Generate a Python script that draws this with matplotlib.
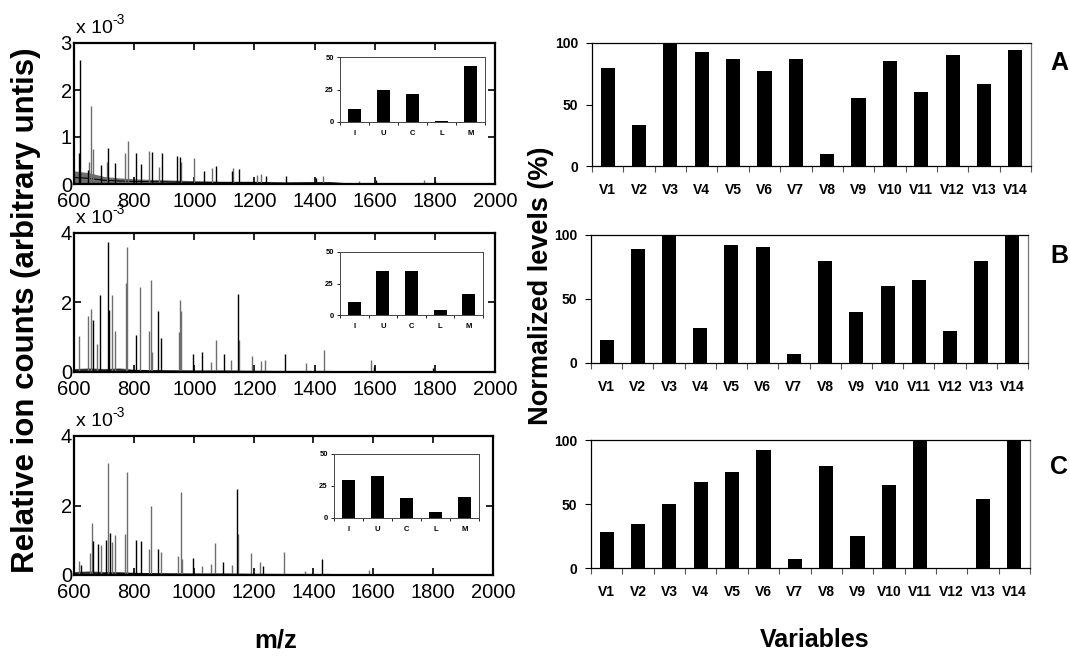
import matplotlib
matplotlib.use("Agg")
import matplotlib.pyplot as plt
import numpy as np

plt.rcParams['font.family'] = ['Liberation Sans', 'DejaVu Sans']

# ---------------- data ----------------
variables = ["V1", "V2", "V3", "V4", "V5", "V6", "V7", "V8", "V9", "V10", "V11", "V12", "V13", "V14"]
levels_A = [80, 33, 100, 93, 87, 77, 87, 10, 55, 85, 60, 90, 67, 94]
levels_B = [18, 89, 100, 27, 92, 91, 7, 80, 40, 60, 65, 25, 80, 99]
levels_C = [28, 34, 50, 67, 75, 92, 7, 80, 25, 65, 100, 0, 54, 100]

inset_cats = ["I", "U", "C", "L", "M"]
inset_A = [10, 25, 21.5, 0.5, 43]
inset_B = [10, 35, 35, 4, 17]
inset_C = [30, 33, 15.5, 5, 16.5]

mz_ticks = [600, 800, 1000, 1200, 1400, 1600, 1800, 2000]

# spectra (intensity in units of 1e-3)
base_mz = [600, 650, 700, 750, 800, 900, 1000, 1100, 1200, 1300, 1400, 1450, 1500, 1600, 1700, 1800, 2000]
base_A = [0.28, 0.24, 0.16, 0.13, 0.11, 0.09, 0.07, 0.06, 0.06, 0.04, 0.05, 0.05, 0.02, 0.02, 0.02, 0.02, 0.01]
base_B = [0.10, 0.12, 0.10, 0.12, 0.08, 0.06, 0.05, 0.05, 0.04, 0.03, 0.03, 0.03, 0.01, 0.01, 0.01, 0.01, 0.01]
base_C = [0.10, 0.12, 0.10, 0.10, 0.08, 0.06, 0.05, 0.05, 0.04, 0.03, 0.03, 0.03, 0.01, 0.01, 0.01, 0.01, 0.01]

A_black_mz = [617, 620, 645, 690, 714, 737, 807, 824, 858, 891, 944, 953, 1032, 1071, 1124, 1148, 1237, 1305, 1406, 1605, 1800]
A_black_h = [0.65, 2.64, 0.30, 0.40, 0.77, 0.45, 0.65, 0.42, 0.68, 0.66, 0.60, 0.58, 0.27, 0.38, 0.27, 0.32, 0.18, 0.16, 0.13, 0.08, 0.07]
A_gray_mz = [650, 658, 663, 709, 771, 778, 850, 883, 956, 999, 1059, 1128, 1210, 1222, 1428, 1548, 1764]
A_gray_h = [0.47, 1.67, 0.75, 0.47, 0.65, 0.91, 0.70, 0.36, 0.47, 0.56, 0.35, 0.35, 0.20, 0.22, 0.16, 0.07, 0.09]

B_black_mz = [662, 686, 712, 716, 805, 880, 889, 996, 1027, 1099, 1146, 1301, 1598, 1795]
B_black_h = [1.51, 2.23, 3.75, 1.78, 1.06, 1.76, 0.99, 0.51, 0.58, 0.51, 2.24, 0.53, 0.13, 0.11]
B_gray_mz = [617, 648, 658, 676, 726, 736, 772, 777, 821, 849, 855, 859, 948, 952, 956, 1056, 1071, 1121, 1150, 1191, 1222, 1236, 1372, 1431, 1588]
B_gray_h = [1.03, 1.62, 1.81, 0.81, 2.21, 1.18, 2.55, 3.60, 2.45, 1.18, 2.64, 0.58, 1.15, 2.07, 1.76, 0.30, 0.92, 0.35, 0.93, 0.47, 0.33, 0.35, 0.25, 0.62, 0.35]

C_black_mz = [623, 664, 681, 707, 720, 808, 824, 882, 997, 1099, 1145, 1233, 1430]
C_black_h = [0.29, 0.97, 0.88, 1.02, 1.21, 1.02, 0.99, 0.74, 0.48, 0.38, 2.47, 0.26, 0.45]
C_gray_mz = [617, 652, 660, 690, 714, 726, 737, 772, 778, 850, 856, 890, 947, 956, 962, 1029, 1058, 1072, 1128, 1148, 1190, 1222, 1300, 1371, 1585]
C_gray_h = [0.41, 0.64, 1.50, 0.85, 3.22, 0.95, 1.16, 1.18, 2.95, 0.74, 1.98, 0.66, 0.54, 2.38, 0.45, 0.26, 0.31, 0.91, 0.28, 1.17, 0.64, 0.37, 0.66, 0.11, 0.14]

# ---------------- layout ----------------
W, H = 1070, 656
fig = plt.figure(figsize=(W / 100, H / 100), dpi=100)

def rect(x0, y0, x1, y1):
    return [x0 / W, 1 - y1 / H, (x1 - x0) / W, (y1 - y0) / H]

left_rects = [rect(74, 43, 495, 184), rect(74, 233, 495, 372), rect(74, 436, 493, 575)]
inset_rects = [rect(340, 57, 485, 122), rect(340, 252, 483, 315), rect(334, 454, 479, 518)]
right_rects = [rect(592, 43, 1031, 166), rect(591, 235, 1028, 363), rect(591, 440, 1030, 568)]

spectra = [
    (base_A, A_black_mz, A_black_h, A_gray_mz, A_gray_h, 3, [0, 1, 2, 3]),
    (base_B, B_black_mz, B_black_h, B_gray_mz, B_gray_h, 4, [0, 2, 4]),
    (base_C, C_black_mz, C_black_h, C_gray_mz, C_gray_h, 4, [0, 2, 4]),
]
insets = [inset_A, inset_B, inset_C]
rights = [levels_A, levels_B, levels_C]
letters = ["A", "B", "C"]
letter_y = [63, 256, 467]

GRAY = "#6e6e6e"

for i in range(3):
    base, bmz, bh, gmz, gh, ymax, yt = spectra[i]
    ax = fig.add_axes(left_rects[i])
    ax.fill_between(base_mz, 0, base, color=GRAY, lw=0)
    ax.plot(base_mz, np.array(base) * 0.5, color="black", lw=0.8)
    ax.vlines(gmz, 0, gh, color=GRAY, lw=1.0)
    ax.vlines(bmz, 0, bh, color="black", lw=1.0)
    ax.set_xlim(600, 2000)
    ax.set_ylim(0, ymax)
    ax.set_xticks(mz_ticks)
    ax.set_yticks(yt)
    ax.tick_params(direction="in", top=True, right=True, length=5, width=1.2,
                   labelsize=14.5, pad=1.5)
    ax.tick_params(axis="x", pad=6)
    for s in ax.spines.values():
        s.set_linewidth(1.6)
    # "x 10^-3" multiplier
    ax.annotate("x 10", xy=(0, 1), xycoords="axes fraction", xytext=(1.5, 4),
                textcoords="offset points", fontsize=14, ha="left", va="bottom")
    ax.annotate("-3", xy=(0, 1), xycoords="axes fraction", xytext=(27.5, 11.5),
                textcoords="offset points", fontsize=10, ha="left", va="bottom")

    # inset
    ia = fig.add_axes(inset_rects[i])
    ia.bar(range(len(inset_cats)), insets[i], width=0.45, color="black")
    ia.set_xlim(-0.5, 4.5)
    ia.set_ylim(0, 50)
    ia.set_yticks([0, 25, 50])
    ia.set_xticks(np.arange(-0.5, 4.6, 1))
    ia.set_xticklabels([])
    ia.set_xticks(range(len(inset_cats)), minor=True)
    ia.set_xticklabels(inset_cats, minor=True, fontsize=5.5, fontweight="bold")
    ia.tick_params(axis="x", which="minor", length=0, pad=6)
    ia.tick_params(axis="x", which="major", length=2.5, width=0.6, direction="out")
    ia.tick_params(axis="y", length=2.5, width=0.6, direction="out", labelsize=5.5, pad=2)
    for lab in ia.get_yticklabels():
        lab.set_fontweight("bold")
    for s in ia.spines.values():
        s.set_linewidth(0.7)
        s.set_color("#444444")

    # right bar chart
    ra = fig.add_axes(right_rects[i])
    ra.bar(range(len(variables)), rights[i], width=0.45, color="black")
    ra.set_xlim(-0.5, 13.5)
    ra.set_ylim(0, 100)
    ra.set_yticks([0, 50, 100])
    ra.set_xticks(np.arange(-0.5, 13.6, 1))
    ra.set_xticklabels([])
    ra.set_xticks(range(len(variables)), minor=True)
    ra.set_xticklabels(variables, minor=True, fontsize=10, fontweight="bold")
    ra.tick_params(axis="x", which="minor", length=0, pad=12)
    ra.tick_params(axis="x", which="major", length=4, width=0.8, direction="out", color="#555555")
    ra.tick_params(axis="y", length=4, width=0.8, direction="out", labelsize=10, pad=6)
    for lab in ra.get_yticklabels():
        lab.set_fontweight("bold")
    for s in ra.spines.values():
        s.set_linewidth(0.9)
    ra.spines["right"].set_color("#777777")
    fig.text(1059 / W, 1 - letter_y[i] / H, letters[i], fontsize=18,
             fontweight="bold", ha="center", va="center")

fig.text(26 / W, 1 - 310 / H, "Relative ion counts (arbitrary untis)", rotation=90,
         fontsize=22.5, fontweight="bold", ha="center", va="center")
fig.text(541 / W, 1 - 286 / H, "Normalized levels (%)", rotation=90,
         fontsize=19.5, fontweight="bold", ha="center", va="center")
fig.text(276 / W, 1 - 640 / H, "m/z", fontsize=18.5, fontweight="bold",
         ha="center", va="center")
fig.text(815 / W, 1 - 640 / H, "Variables", fontsize=18, fontweight="bold",
         ha="center", va="center")

fig.savefig("out.png", dpi=100)
